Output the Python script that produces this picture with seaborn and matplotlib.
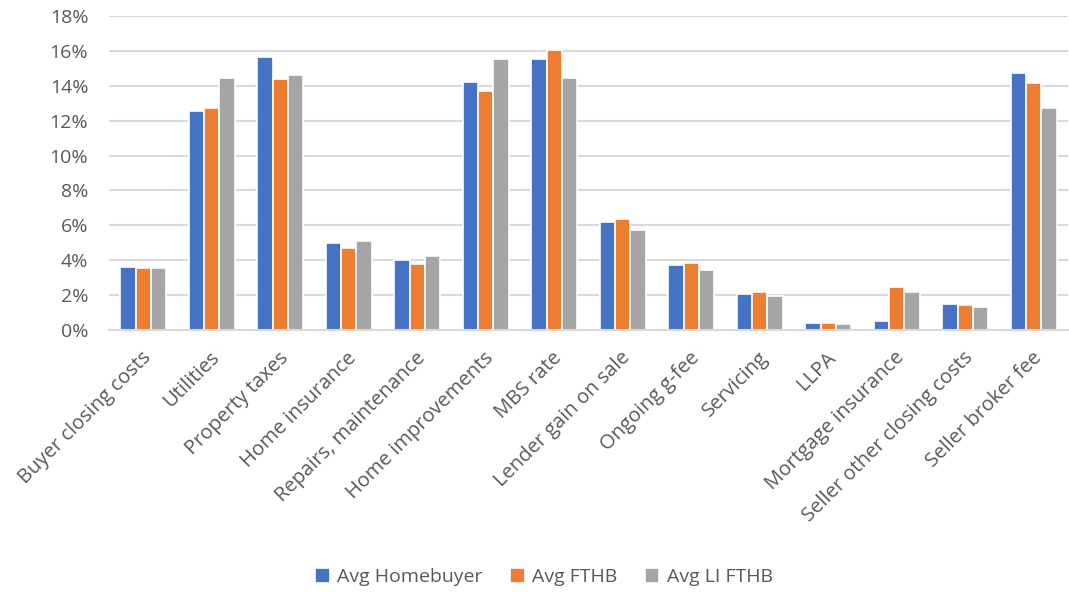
import matplotlib
matplotlib.use("Agg")
import matplotlib.pyplot as plt
import matplotlib.ticker as mticker
import matplotlib.transforms as mtransforms
import pandas as pd
import seaborn as sns

categories = [
    "Buyer closing costs", "Utilities", "Property taxes", "Home insurance",
    "Repairs, maintenance", "Home improvements", "MBS rate",
    "Lender gain on sale", "Ongoing g-fee", "Servicing", "LLPA",
    "Mortgage insurance", "Seller other closing costs", "Seller broker fee",
]
series_names = ["Avg Homebuyer", "Avg FTHB", "Avg LI FTHB"]
avg_homebuyer = [3.59, 12.54, 15.67, 4.96, 4.01, 14.20, 15.56, 6.19, 3.72, 2.08, 0.38, 0.52, 1.49, 14.72]
avg_fthb      = [3.53, 12.75, 14.38, 4.68, 3.78, 13.71, 16.04, 6.38, 3.82, 2.16, 0.40, 2.46, 1.43, 14.16]
avg_li_fthb   = [3.55, 14.43, 14.60, 5.10, 4.24, 15.56, 14.43, 5.73, 3.44, 1.95, 0.36, 2.19, 1.30, 12.75]
colors = ["#4472C4", "#ED7D31", "#A5A5A5"]

df = pd.DataFrame({
    "category": categories * 3,
    "series": [s for s in series_names for _ in categories],
    "value": avg_homebuyer + avg_fthb + avg_li_fthb,
})

sns.set_theme(style="white")
plt.rcParams["font.family"] = ["Open Sans", "DejaVu Sans"]
text_color = "#595959"
grid_color = "#D9D9D9"

fig = plt.figure(figsize=(10.69, 5.92), dpi=100)
ax = fig.add_axes([0.102, 0.4426, 0.897, 0.5304])

sns.barplot(
    data=df, x="category", y="value", hue="series",
    order=categories, hue_order=series_names, palette=colors,
    width=0.67, edgecolor="white", linewidth=1.2, saturation=1,
    ax=ax, legend=True,
)

ax.set_ylim(0, 18)
ax.set_xlim(-0.5, len(categories) - 0.5)
ax.yaxis.set_major_locator(mticker.MultipleLocator(2))
ax.yaxis.set_major_formatter(mticker.FuncFormatter(lambda v, p: f"{v:.0f}%"))
ax.grid(axis="y", color=grid_color, linewidth=1.5)
ax.set_axisbelow(True)
for side in ["top", "right", "left"]:
    ax.spines[side].set_visible(False)
ax.spines["bottom"].set_color(grid_color)
ax.spines["bottom"].set_linewidth(1.5)
ax.tick_params(axis="both", length=0, labelsize=14, colors=text_color)
ax.tick_params(axis="x", labelsize=14.5, pad=18)
ax.tick_params(axis="y", pad=15)
ax.set_xlabel("")
ax.set_ylabel("")

# rotated category labels, nudged a little to the right of each tick
shift = mtransforms.ScaledTranslation(5 / 100, 0, fig.dpi_scale_trans)
for lbl in ax.get_xticklabels():
    lbl.set_rotation(45)
    lbl.set_ha("right")
    lbl.set_va("center")
    lbl.set_rotation_mode("anchor")
    lbl.set_transform(lbl.get_transform() + shift)

handles, labels = ax.get_legend_handles_labels()
ax.legend_.remove()
fig.legend(
    handles, labels, loc="center", bbox_to_anchor=(0.509, 0.025),
    ncol=3, frameon=False, fontsize=14, labelcolor=text_color,
    handlelength=0.75, handleheight=0.75, handletextpad=0.4, columnspacing=1.4,
)

fig.savefig("out.png", dpi=100)
